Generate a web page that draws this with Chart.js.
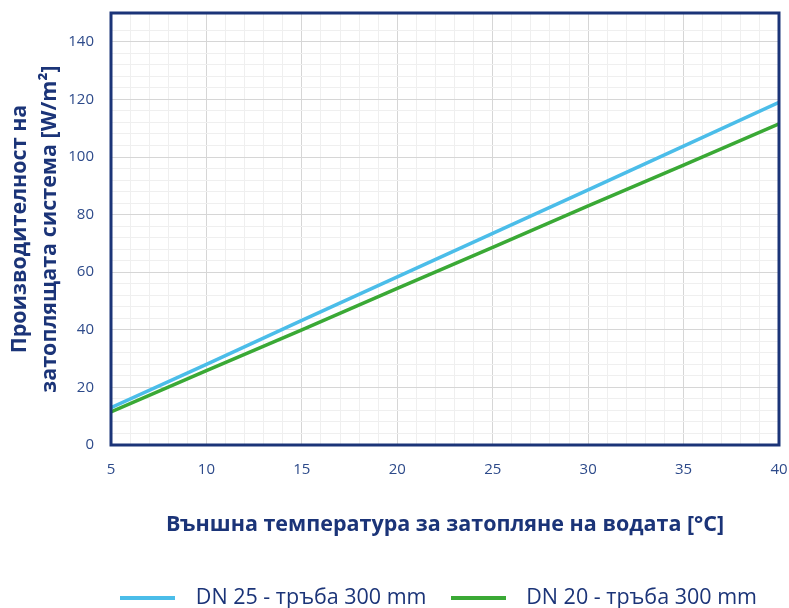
<!DOCTYPE html>
<html>
<head>
<meta charset="utf-8">
<script src="https://cdn.jsdelivr.net/npm/chart.js@4/dist/chart.umd.min.js"></script>
<style>
  html, body { margin: 0; padding: 0; background: #ffffff; }
  #wrap { width: 789px; height: 608px; }
</style>
</head>
<body>
<div id="wrap"><canvas id="chart"></canvas></div>
<script>
// values
const temps = [5, 10, 15, 20, 25, 30, 35, 40];
const dn25 = [13, 28, 43.3, 58.4, 73.5, 88.6, 103.8, 119];
const dn20 = [11.5, 25.8, 40, 54.4, 68.6, 83, 97.2, 111.5];
const seriesNames = ['DN 25 - тръба 300 mm', 'DN 20 - тръба 300 mm'];
const xTitle = 'Външна температура за затопляне на водата [°C]';
const yTitle = ['Производителност на', 'затоплящата система [W/m²]'];

const NAVY = '#1b3478';
const TEXT = '#2d4a8a';
const BLUE = '#4bbde9';
const GREEN = '#3aa935';
const FONT = "'Open Sans', sans-serif";

const toPoints = (vals) => temps.map((t, i) => ({ x: t, y: vals[i] }));

// long flat swatch for the legend
function swatch(color) {
    const c = document.createElement('canvas');
    c.width = 55;
    c.height = 4;
    const g = c.getContext('2d');
    g.fillStyle = color;
    g.fillRect(0, 0, 55, 4);
    return c;
}

// frame round the plot area
const framePlugin = {
    id: 'frame',
    afterLayout(chart) {
        // legend sits a bit right of centre and lower in the original
        const lg = chart.legend;
        lg.left += 44;
        lg.right += 44;
        lg.top += 11;
        lg.bottom += 11;
    },
    afterDraw(chart) {
        const { ctx, chartArea: a } = chart;
        ctx.save();
        ctx.strokeStyle = NAVY;
        ctx.lineWidth = 3;
        ctx.strokeRect(a.left, a.top, a.right - a.left, a.bottom - a.top);
        ctx.restore();
    }
};

const ctx = document.getElementById('chart').getContext('2d');
new Chart(ctx, {
    type: 'line',
    data: {
        datasets: [{
            label: seriesNames[0],
            data: toPoints(dn25),
            borderColor: BLUE,
            backgroundColor: BLUE,
            borderWidth: 3.5,
            pointRadius: 0,
            pointStyle: swatch(BLUE),
            tension: 0
        }, {
            label: seriesNames[1],
            data: toPoints(dn20),
            borderColor: GREEN,
            backgroundColor: GREEN,
            borderWidth: 3.5,
            pointRadius: 0,
            pointStyle: swatch(GREEN),
            tension: 0
        }]
    },
    options: {
        responsive: true,
        maintainAspectRatio: false,
        animation: false,
        layout: { padding: { top: 13, right: 10, left: 0, bottom: 0 } },
        plugins: {
            tooltip: { enabled: false },
            legend: {
                position: 'bottom',
                labels: {
                    usePointStyle: true,
                    pointStyleWidth: 75,
                    boxHeight: 21,
                    padding: 14,
                    color: NAVY,
                    font: { family: FONT, size: 21.5 }
                }
            }
        },
        scales: {
            x: {
                type: 'linear',
                min: 5,
                max: 40,
                afterFit(scale) {
                    scale.paddingLeft = 0;
                    scale.paddingRight = 0;
                    scale.height = scale.chart.height - 445 - scale.chart.legend.height;
                },
                border: { display: false },
                grid: {
                    drawTicks: false,
                    color: (c) => (c.tick.value % 5 === 0 ? '#d6d6d6' : '#efefef'),
                    lineWidth: 1
                },
                ticks: {
                    stepSize: 1,
                    autoSkip: false,
                    maxRotation: 0,
                    padding: 16,
                    color: TEXT,
                    font: { family: FONT, size: 15 },
                    callback: (v) => (v % 5 === 0 ? v : '')
                },
                title: {
                    display: true,
                    text: xTitle,
                    color: NAVY,
                    padding: { top: 0, bottom: 24.6 },
                    font: { family: FONT, size: 21.5, weight: 'bold' }
                }
            },
            y: {
                min: 0,
                max: 150,
                afterFit(scale) {
                    scale.paddingTop = 0;
                    scale.paddingBottom = 0;
                    scale.width = 111;
                },
                border: { display: false },
                grid: {
                    drawTicks: false,
                    color: (c) => (c.tick.value % 20 === 0 ? '#d6d6d6' : '#efefef'),
                    lineWidth: 1
                },
                ticks: {
                    stepSize: 4,
                    autoSkip: false,
                    padding: 17,
                    color: TEXT,
                    font: { family: FONT, size: 15 },
                    callback: (v) => (v % 20 === 0 && v <= 140 ? v : '')
                },
                title: {
                    display: true,
                    text: yTitle,
                    color: NAVY,
                    padding: { top: 5, bottom: 0 },
                    font: { family: FONT, size: 21.5, weight: 'bold', lineHeight: 1.4 }
                }
            }
        }
    },
    plugins: [framePlugin]
});
</script>
</body>
</html>
